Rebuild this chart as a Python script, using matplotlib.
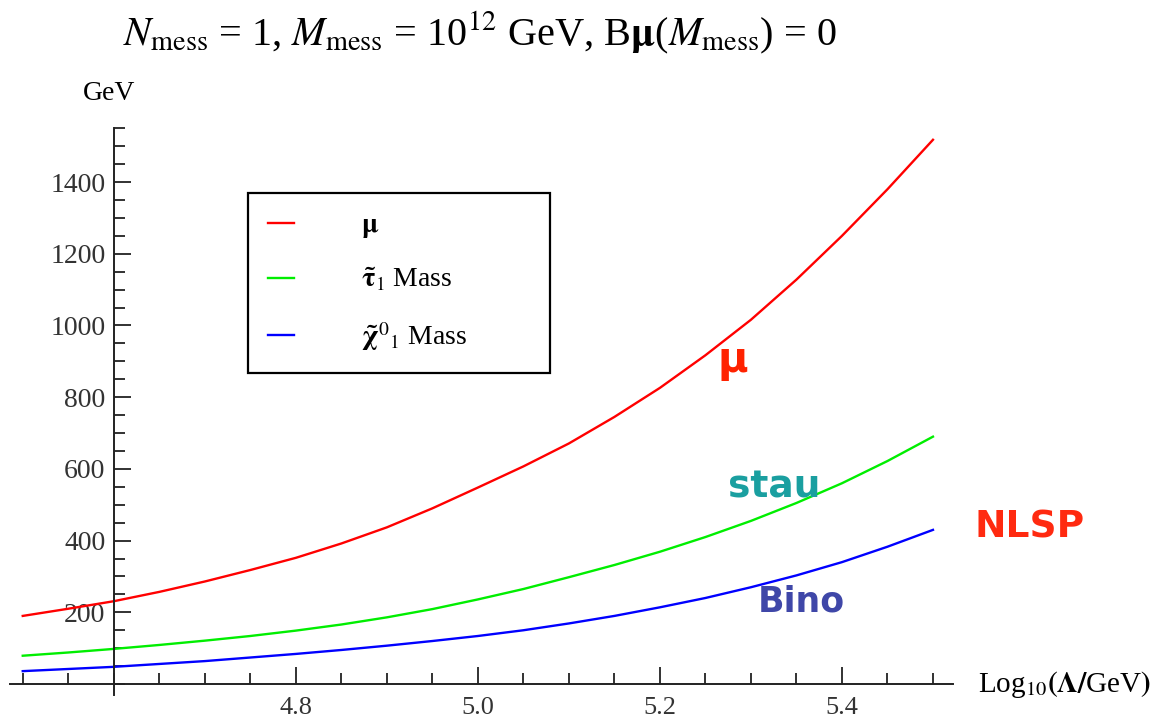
import matplotlib
matplotlib.use("Agg")
from matplotlib import pyplot as plt
from matplotlib.ticker import MultipleLocator, FixedLocator

# values (x = Log10(Lambda/GeV), masses in GeV)
log_lambda = [4.50, 4.55, 4.60, 4.65, 4.70, 4.75, 4.80, 4.85, 4.90, 4.95, 5.00,
              5.05, 5.10, 5.15, 5.20, 5.25, 5.30, 5.35, 5.40, 5.45, 5.50]
mu_mass = [190, 210, 231, 257, 286, 318, 352, 392, 437, 490, 548,
           607, 671, 745, 826, 917, 1016, 1128, 1250, 1380, 1518]
stau_mass = [79, 88, 98, 109, 121, 134, 149, 166, 186, 209, 236,
             265, 298, 332, 369, 410, 455, 505, 560, 622, 690]
bino_mass = [36, 42, 48, 56, 64, 74, 84, 95, 107, 120, 134,
             150, 169, 190, 214, 240, 270, 303, 340, 383, 430]

x_major = [4.8, 5.0, 5.2, 5.4]
y_major = [200, 400, 600, 800, 1000, 1200, 1400]

labels = [r"$\mathbf{\mu}$",
          r"$\mathbf{\tilde{\tau}}_1$ Mass",
          r"$\mathbf{\tilde{\chi}}^{0}{}_{1}$ Mass"]
colors = ["#ff0000", "#00ee00", "#0000ff"]

plt.rcParams["font.family"] = ["Liberation Serif", "DejaVu Serif"]
plt.rcParams["mathtext.fontset"] = "stix"

W, H = 1163, 724
fig = plt.figure(figsize=(W / 100, H / 100), dpi=100)

# axes box in pixel terms: x 10..953, y 128..695
ax = fig.add_axes([10 / W, (H - 694.8) / H, 943 / W, (694.8 - 128.3) / H])
ax.set_xlim(4.486, 5.522)
ax.set_ylim(-30, 1550)

for series, lab, col in zip([mu_mass, stau_mass, bino_mass], labels, colors):
    ax.plot(log_lambda, series, color=col, lw=1.7, label=lab)

# Mathematica style crossing axes
ax.spines["left"].set_position(("data", 4.6))
ax.spines["bottom"].set_position(("data", 0))
ax.spines["top"].set_visible(False)
ax.spines["right"].set_visible(False)
for s in ["left", "bottom"]:
    ax.spines[s].set_linewidth(1.4)
    ax.spines[s].set_color("#222222")

ax.xaxis.set_major_locator(FixedLocator(x_major))
ax.xaxis.set_minor_locator(MultipleLocator(0.05))
ax.yaxis.set_major_locator(FixedLocator(y_major))
ax.yaxis.set_minor_locator(MultipleLocator(50))
ax.set_xticklabels(["%.1f" % v for v in x_major])
ax.set_yticklabels([str(v) for v in y_major])

ax.tick_params(which="both", direction="in", color="#222222", width=1.3,
               labelsize=20, labelcolor="#333333")
ax.tick_params(which="major", length=12)
ax.tick_params(which="minor", length=8)
ax.tick_params(axis="x", which="both", pad=9, labelsize=19)
ax.tick_params(axis="y", which="both", pad=6)

leg = ax.legend(loc="upper left", bbox_to_anchor=(248 / W, 1 - 368 / H, 302 / W, 175 / H),
                bbox_transform=fig.transFigure, mode="expand", borderaxespad=0,
                fontsize=20, handlelength=0.95, handletextpad=2.4,
                borderpad=0.72, labelspacing=0.94, fancybox=False,
                edgecolor="black", framealpha=1)
leg.get_frame().set_linewidth(1.6)

fig.text(480 / W, 1 - 45 / H,
         r"$N_{\mathrm{mess}}$ = 1, $M_{\mathrm{mess}}$ = 10$^{12}$ GeV, "
         r"B$\mathbf{\mu}$($M_{\mathrm{mess}}$) = 0",
         ha="center", va="baseline", fontsize=29)
fig.text(83 / W, 1 - 100 / H, "GeV", ha="left", va="baseline", fontsize=20)
fig.text(978 / W, 1 - 685 / H, r"Log$_{10}$$\mathbf{(\Lambda/}$GeV$\mathbf{)}$",
         ha="left", va="center", fontsize=21)

# hand-written notes on the picture
hand = dict(family="DejaVu Sans", weight="bold", ha="center", va="center")
fig.text(733 / W, 1 - 360 / H, "\u03bc", color="#ff2200", fontsize=30, **hand)
fig.text(774 / W, 1 - 488 / H, "stau", color="#1a9fa0", fontsize=27, **hand)
fig.text(1030 / W, 1 - 527 / H, "NLSP", color="#ff2a10", fontsize=27, **hand)
fig.text(801 / W, 1 - 601 / H, "Bino", color="#3f47a8", fontsize=25, **hand)

fig.savefig("out.png", dpi=100)
